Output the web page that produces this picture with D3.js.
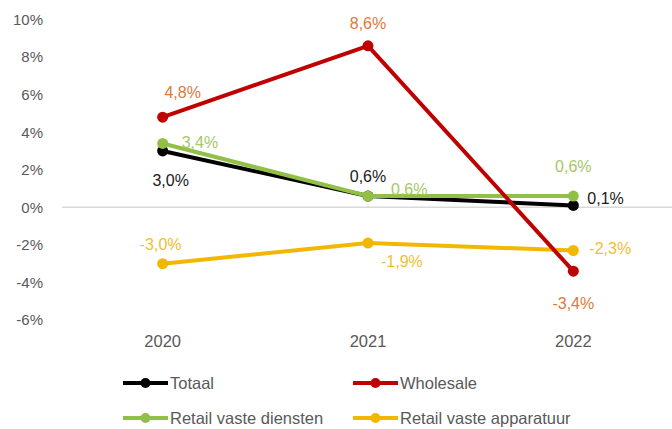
<!DOCTYPE html>
<html><head><meta charset="utf-8">
<script src="https://cdn.jsdelivr.net/npm/d3@7/dist/d3.min.js"></script>
<style>body{margin:0;background:#fff;}svg{display:block;font-family:"Liberation Sans",Arial,sans-serif;}</style>
</head><body><svg id="c" width="672" height="429"></svg>
<script>
const years = ["2020","2021","2022"];
const yTicks = [10,8,6,4,2,0,-2,-4,-6];
const seriesNames = ["Totaal","Wholesale","Retail vaste diensten","Retail vaste apparatuur"];
const totaal = [3.0,0.6,0.1];
const wholesale = [4.8,8.6,-3.4];
const retailDiensten = [3.4,0.6,0.6];
const retailApparatuur = [-3.0,-1.9,-2.3];
const lineColors = ["#000000","#c00000","#92c047","#f2b800"];
const labelColors = ["#1a1a1a","#e0783a","#a6c866","#f0c030"];
// label offsets (dx, dy, anchor) per series per point
const labelPos = [
  [[8,29,"middle"],[0,-20,"middle"],[14,-7,"start"]],
  [[20,-25,"middle"],[0,-22,"middle"],[0,32,"middle"]],
  [[19,-1,"start"],[23,-7,"start"],[0,-30,"middle"]],
  [[-2,-19,"middle"],[13,18,"start"],[16,-2,"start"]]
];
const data = [totaal,wholesale,retailDiensten,retailApparatuur];
const fmt = v => v.toFixed(1).replace(".",",")+"%";

const svg = d3.select("#c");
const x = d3.scaleBand().domain(years).range([60,676]);
const y = d3.scaleLinear().domain([-6,10]).range([320,19.5]);

// y axis labels
const yAxis = d3.axisLeft(y).tickValues(yTicks).tickFormat(d=>d+"%").tickSize(0).tickPadding(0);
const ga = svg.append("g").attr("transform","translate(43,0)").call(yAxis);
ga.select(".domain").remove();
ga.selectAll("text").attr("fill","#595959").style("font-size","15px").style("font-family","Liberation Sans, Arial, sans-serif");

// zero line
svg.append("line").attr("x1",62).attr("x2",672).attr("y1",y(0)).attr("y2",y(0)).attr("stroke","#d9d9d9").attr("stroke-width",1.5);

// x labels
const xAxis = d3.axisBottom(x).tickSize(0).tickPadding(0);
const gx = svg.append("g").attr("transform","translate(0,335)").call(xAxis);
gx.select(".domain").remove();
gx.selectAll("text").attr("fill","#595959").style("font-size","16.5px").style("font-family","Liberation Sans, Arial, sans-serif");

const cx = d => x(d)+x.bandwidth()/2;
const line = d3.line().x((d,i)=>cx(years[i])).y(d=>y(d));
const order = [3,0,2,1];
order.forEach(s=>{
  svg.append("path").attr("d",line(data[s])).attr("fill","none").attr("stroke",lineColors[s]).attr("stroke-width",4).attr("stroke-linejoin","round");
  svg.selectAll(null).data(data[s]).enter().append("circle")
    .attr("cx",(d,i)=>cx(years[i])).attr("cy",d=>y(d)).attr("r",5.5).attr("fill",lineColors[s]);
});
data.forEach((arr,s)=>{
  svg.selectAll(null).data(arr).enter().append("text")
    .attr("x",(d,i)=>cx(years[i])+labelPos[s][i][0])
    .attr("y",(d,i)=>y(d)+labelPos[s][i][1])
    .attr("dy","0.35em")
    .attr("text-anchor",(d,i)=>labelPos[s][i][2])
    .attr("fill",labelColors[s]).style("font-size","16px")
    .text(fmt);
});

// legend
const legPos = [[123,383],[353,383],[123,418],[353,418]];
seriesNames.forEach((n,s)=>{
  const [lx,ly]=legPos[s];
  const g = svg.append("g");
  g.append("line").attr("x1",lx).attr("x2",lx+45).attr("y1",ly).attr("y2",ly).attr("stroke",lineColors[s]).attr("stroke-width",4);
  g.append("circle").attr("cx",lx+22.5).attr("cy",ly).attr("r",5).attr("fill",lineColors[s]);
  g.append("text").attr("x",lx+47).attr("y",ly).attr("dy","0.35em").attr("fill","#595959").style("font-size","16.5px").text(n);
});
</script></body></html>
